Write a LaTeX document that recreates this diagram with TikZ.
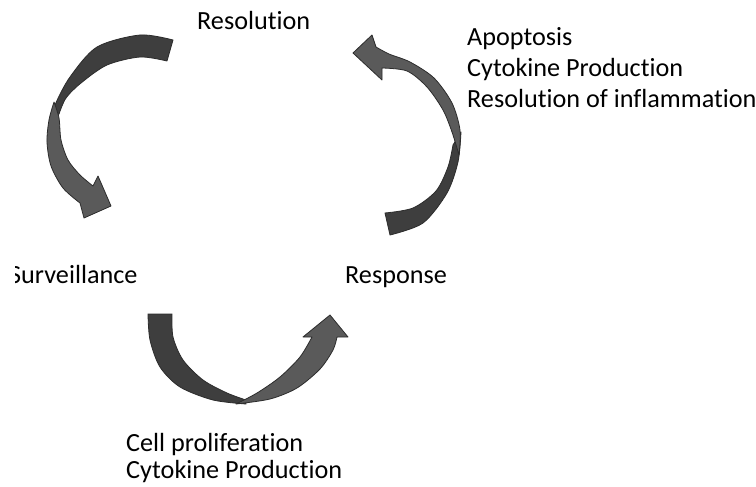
\documentclass[tikz,border=0pt]{standalone}
\usepackage{fontspec}
\setmainfont{Carlito}[Ligatures=CommonOff,RawFeature={-liga;-clig;-calt}]
\definecolor{arrowdark}{HTML}{3E3E3E}
\definecolor{arrowlight}{HTML}{5A5A5A}
\definecolor{arrowedge}{HTML}{2C2C2C}
\begin{document}
\begin{tikzpicture}[x=1pt,y=-1pt,
  lbl/.style={anchor=base west,inner sep=0pt,font=\fontsize{26.2}{30}\selectfont},
  backpart/.style={fill=arrowdark,draw=arrowedge,line width=0.8pt,line join=round},
  frontpart/.style={fill=arrowlight,draw=arrowedge,line width=0.8pt,line join=round}]
\useasboundingbox[fill=white] (0,0) rectangle (756,487);

% ---- labels ----
\node[lbl] (resol) at (197,30) {Resolution};
\node[lbl] (apop) at (467,46) {Apoptosis};
\node[lbl] (cyto1) at (467,77) {Cytokine Production};
\node[lbl] (infl) at (467,107) {Resolution of inflammation};
\begin{scope}
  \clip (15,240) rectangle (220,300);
  \node[lbl] (surv) at (9,283) {Surveillance};
\end{scope}
\node[lbl] (resp) at (345,283) {Response};
\node[lbl] (cell) at (126,451) {Cell proliferation};
\node[lbl] (cyto2) at (126,478) {Cytokine Production};

% ---- arrow 1: Resolution -> Surveillance ----
\path[backpart] (173,40) -- plot[smooth] coordinates {(173,40) (140,35) (97,47) (70,77) (55,105) (49,126)}
  -- plot[smooth] coordinates {(59,114) (66,98) (81,83) (107,65) (140,57) (167,61)} -- cycle;
\path[frontpart] (54,102) -- plot[smooth] coordinates {(54,102) (49,120) (47,142) (51,166) (63,188) (80,203)}
  -- (84,218) -- (111,206) -- (98,176) -- (93,186)
  -- plot[smooth] coordinates {(93,186) (80,175) (68,160) (61,140) (59,118) (54,102)} -- cycle;

% ---- arrow 2: Response -> Resolution ----
\path[backpart] (390,235) -- plot[smooth] coordinates {(390,235) (423,223) (447,193) (458,162) (461,132)}
  -- plot[smooth] coordinates {(453,145) (448,167) (436,191) (413,208) (385,213)} -- cycle;
\path[frontpart] (459,155) -- plot[smooth] coordinates {(459,155) (460,130) (452,103) (434,78) (410,62) (389,54) (376,47)}
  -- (372,35) -- (353,53) -- (382,80) -- (382,68)
  -- plot[smooth] coordinates {(382,68) (407,71) (427,87) (443,110) (452,132) (459,155)} -- cycle;

% ---- arrow 3: Surveillance -> Response ----
\path[backpart] (148,314) -- plot[smooth] coordinates {(148,314) (150,340) (160,367) (180,387) (213,400) (246,404)}
  -- plot[smooth] coordinates {(246,400) (227,393) (203,380) (183,360) (173,337) (172,314)} -- cycle;
\path[frontpart] (236,404) -- plot[smooth] coordinates {(236,404) (270,399) (297,388) (320,369) (333,350) (337,337)}
  -- (348,337) -- (330,315) -- (303,337) -- (312,337)
  -- plot[smooth] coordinates {(312,337) (300,357) (280,377) (257,393) (236,404)} -- cycle;
\end{tikzpicture}
\end{document}
